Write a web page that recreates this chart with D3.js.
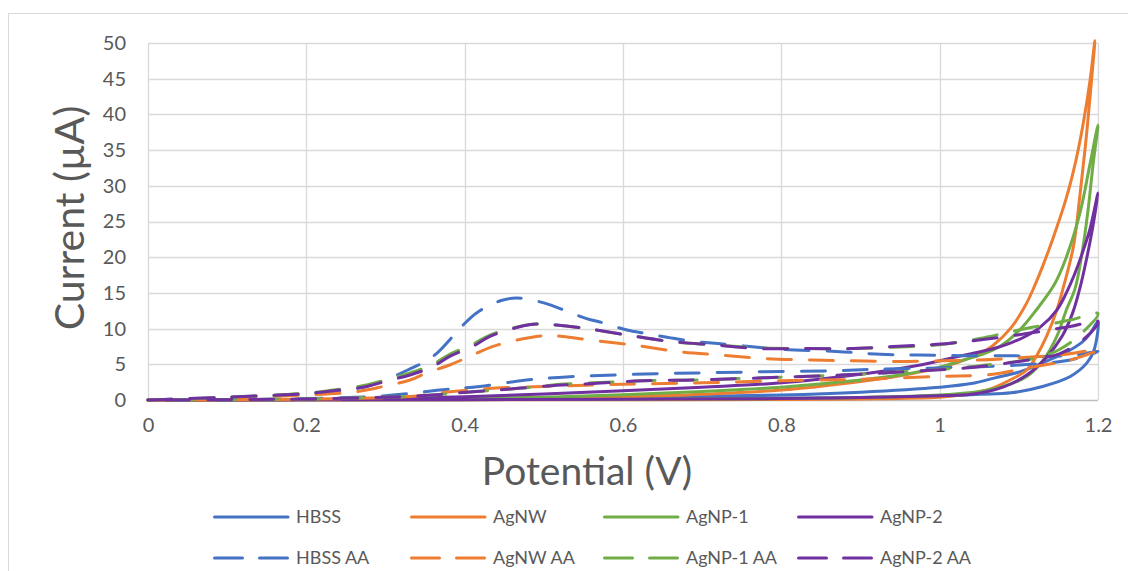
<!DOCTYPE html>
<html><head><meta charset="utf-8">
<script src="https://cdn.jsdelivr.net/npm/d3@7"></script>
<style>
html,body{margin:0;padding:0;background:#fff;}
svg{display:block;font-family:Lato,"Open Sans",sans-serif;}
</style></head>
<body><svg id="c" width="1128" height="571"></svg>
<script>
// ---- data (potential V, current µA), forward scan then reverse scan ----
const xTicks = [0, 0.2, 0.4, 0.6, 0.8, 1, 1.2];
const yTicks = [0, 5, 10, 15, 20, 25, 30, 35, 40, 45, 50];
const seriesNames = ["HBSS", "AgNW", "AgNP-1", "AgNP-2", "HBSS AA", "AgNW AA", "AgNP-1 AA", "AgNP-2 AA"];
const seriesColors = ["#4472C4", "#ED7D31", "#70AD47", "#7030A0", "#4472C4", "#ED7D31", "#70AD47", "#7030A0"];
const seriesDashed = [false, false, false, false, true, true, true, true];

const hbss = [[0,0],[0.2,0.03],[0.4,0.08],[0.6,0.15],[0.8,0.25],[0.9,0.35],[1.0,0.5],[1.05,0.8],[1.09,1.0],[1.13,1.9],[1.165,3.3],[1.186,5.2],[1.195,7.0],[1.2,11],
  [1.19,9.3],[1.18,8.1],[1.16,6.7],[1.14,5.7],[1.12,4.7],[1.1,3.9],[1.07,3.1],[1.04,2.3],[1.0,1.8],[0.9,1.1],[0.8,0.7],[0.6,0.35],[0.4,0.15],[0.2,0.05],[0,0]];
const agnw = [[0,0],[0.4,0.02],[0.6,0.04],[0.8,0.08],[0.9,0.15],[1.0,0.4],[1.026,0.7],[1.06,1.4],[1.089,2.8],[1.11,4.2],[1.122,6.1],[1.135,8.9],[1.148,12.6],[1.156,15.7],[1.169,21.5],[1.177,28.5],[1.184,35.5],[1.19,42.5],[1.196,50.3],
  [1.19,44.8],[1.181,38.5],[1.172,33.5],[1.16,28.3],[1.143,22.6],[1.126,17.6],[1.11,13.6],[1.09,10.1],[1.067,7.6],[1.047,6.3],[1.026,5.4],[1.0,4.5],[0.95,3.4],[0.9,2.6],[0.8,1.4],[0.7,0.8],[0.6,0.45],[0.5,0.25],[0.4,0.12],[0.2,0.03],[0,0]];
const agnp1 = [[0,0],[0.2,0.02],[0.4,0.05],[0.6,0.1],[0.8,0.2],[0.9,0.35],[1.0,0.7],[1.05,1.2],[1.08,1.9],[1.11,3.3],[1.131,5.6],[1.148,8.9],[1.16,12.6],[1.171,15.6],[1.179,20],[1.187,26.2],[1.194,33.2],[1.2,38.5],
  [1.19,33.1],[1.177,26.1],[1.16,20],[1.145,16.2],[1.122,12.6],[1.101,9.8],[1.076,7.5],[1.051,6.3],[1.03,5.6],[1.0,4.6],[0.95,3.5],[0.9,2.8],[0.8,1.8],[0.7,1.2],[0.6,0.75],[0.5,0.4],[0.4,0.2],[0.3,0.1],[0.2,0.04],[0,0]];
const agnp2 = [[0,0],[0.2,0.02],[0.4,0.05],[0.6,0.1],[0.8,0.2],[0.9,0.35],[1.0,0.6],[1.04,0.8],[1.08,1.8],[1.11,3.5],[1.135,6],[1.155,9],[1.168,12.2],[1.177,15.6],[1.186,20],[1.193,24],[1.2,29],
  [1.19,24],[1.18,20.5],[1.17,17.5],[1.16,15],[1.148,12.6],[1.127,10.2],[1.11,9.0],[1.09,8.0],[1.065,7.1],[1.04,6.5],[1.02,6.0],[0.97,4.8],[0.9,3.6],[0.8,2.4],[0.7,1.8],[0.6,1.3],[0.5,0.85],[0.4,0.45],[0.3,0.2],[0.2,0.08],[0,0]];
const hbssAA = [[0,0],[0.1,0.35],[0.2,0.9],[0.25,1.4],[0.276,1.9],[0.31,3.3],[0.328,4.2],[0.36,6.1],[0.398,10.5],[0.415,12.2],[0.445,13.9],[0.466,14.3],[0.5,13.6],[0.53,12.4],[0.554,11.4],[0.575,10.8],[0.605,9.8],[0.63,9.3],[0.66,8.7],[0.69,8.2],[0.72,7.9],[0.76,7.5],[0.8,7.1],[0.87,6.8],[0.925,6.4],[0.975,6.3],[1.03,6.2],[1.09,6.2],[1.135,6.1],[1.17,6.3],[1.2,6.8],
  [1.165,5.6],[1.1,4.9],[1.0,4.5],[0.92,4.3],[0.87,4.1],[0.8,4.0],[0.7,3.8],[0.647,3.7],[0.59,3.5],[0.524,3.2],[0.478,2.8],[0.419,1.9],[0.369,1.4],[0.3,0.6],[0.2,0.2],[0.1,0.05],[0,0]];
const agnwAA = [[0,0],[0.1,0.3],[0.2,0.7],[0.25,1.0],[0.276,1.4],[0.297,1.9],[0.331,2.8],[0.352,3.8],[0.381,4.9],[0.41,6.3],[0.436,7.5],[0.466,8.4],[0.499,9.0],[0.524,8.9],[0.558,8.4],[0.613,7.7],[0.668,6.8],[0.722,6.3],[0.781,5.8],[0.84,5.6],[0.891,5.5],[0.95,5.4],[1.004,5.5],[1.05,5.6],[1.1,5.9],[1.15,6.3],[1.2,7.0],
  [1.165,5.6],[1.11,4.5],[1.067,3.6],[1.0,3.3],[0.9,2.9],[0.8,2.7],[0.7,2.4],[0.6,2.2],[0.5,1.9],[0.445,1.7],[0.385,1.2],[0.331,0.5],[0.25,0.2],[0.15,0.05],[0,0]];
const agnp1AA = [[0,0],[0.1,0.4],[0.2,0.95],[0.234,1.4],[0.276,2.1],[0.306,3.0],[0.331,3.8],[0.36,5.0],[0.381,6.4],[0.41,7.8],[0.432,9.1],[0.461,10.1],[0.486,10.6],[0.516,10.5],[0.554,10.0],[0.605,9.1],[0.66,8.2],[0.718,7.7],[0.773,7.3],[0.832,7.2],[0.887,7.2],[0.941,7.4],[0.996,7.7],[1.05,8.6],[1.1,9.8],[1.165,11.2],[1.2,12.1],
  [1.177,9.1],[1.15,7.0],[1.122,5.9],[1.067,5.0],[1.026,4.5],[0.975,4.1],[0.916,3.7],[0.853,3.4],[0.8,3.2],[0.748,3.0],[0.689,2.8],[0.625,2.7],[0.562,2.4],[0.52,2.2],[0.495,1.9],[0.453,1.5],[0.415,1.2],[0.36,0.7],[0.318,0.46],[0.2,0.15],[0.1,0.05],[0,0]];
const agnp2AA = [[0,0],[0.1,0.4],[0.2,0.9],[0.234,1.3],[0.276,1.9],[0.306,2.8],[0.331,3.5],[0.36,4.7],[0.381,6.1],[0.41,7.5],[0.432,8.9],[0.461,10.0],[0.486,10.6],[0.516,10.5],[0.554,10.0],[0.605,9.1],[0.66,8.2],[0.718,7.7],[0.773,7.2],[0.832,7.2],[0.887,7.2],[0.941,7.5],[0.996,7.8],[1.05,8.4],[1.11,9.3],[1.165,10.3],[1.2,11.0],
  [1.186,8.9],[1.152,6.5],[1.122,5.8],[1.067,4.9],[1.026,4.4],[0.975,4.1],[0.916,3.7],[0.853,3.4],[0.8,3.2],[0.748,3.0],[0.689,2.8],[0.625,2.7],[0.562,2.3],[0.524,2.1],[0.495,1.9],[0.453,1.5],[0.415,1.2],[0.36,0.7],[0.318,0.46],[0.2,0.15],[0.1,0.05],[0,0]];
const seriesData = [hbss, agnw, agnp1, agnp2, hbssAA, agnwAA, agnp1AA, agnp2AA];

// ---- drawing ----
(function () {
const svg = d3.select("#c");
const pLeft = 148, pRight = 1098, pTop = 43, pBottom = 400;
const x = d3.scaleLinear().domain([0, 1.2]).range([pLeft, pRight]);
const y = d3.scaleLinear().domain([0, 50]).range([pBottom, pTop]);
const textColor = "#595959";
const gridColor = "#d9d9d9";

// chart area border (cropped)
svg.append("rect").attr("x", 8.5).attr("y", 13.5).attr("width", 1200).attr("height", 700)
  .attr("fill", "none").attr("stroke", gridColor).attr("stroke-width", 1);

// gridlines
const grid = svg.append("g");
grid.selectAll("line.h").data(yTicks.filter(d => d > 0)).join("line")
  .attr("x1", pLeft).attr("x2", pRight)
  .attr("y1", d => Math.round(y(d)) + 0.5).attr("y2", d => Math.round(y(d)) + 0.5)
  .attr("stroke", gridColor).attr("stroke-width", 1.3);
grid.selectAll("line.v").data(xTicks).join("line")
  .attr("y1", pTop).attr("y2", pBottom)
  .attr("x1", d => Math.round(x(d)) + 0.5).attr("x2", d => Math.round(x(d)) + 0.5)
  .attr("stroke", gridColor).attr("stroke-width", 1.3);
svg.append("line").attr("x1", pLeft).attr("x2", pRight).attr("y1", pBottom + 0.5).attr("y2", pBottom + 0.5)
  .attr("stroke", "#bfbfbf").attr("stroke-width", 1.3);

// axes (labels via d3 axes)
const yAxis = svg.append("g").attr("transform", `translate(${pLeft},0)`)
  .call(d3.axisLeft(y).tickValues(yTicks).tickSize(0).tickPadding(22).tickFormat(d3.format("d")));
yAxis.select(".domain").remove();
yAxis.selectAll("text").attr("fill", textColor).attr("font-size", 20).attr("font-family", "Lato, sans-serif");

const xAxis = svg.append("g").attr("transform", `translate(0,${pBottom})`)
  .call(d3.axisBottom(x).tickValues(xTicks).tickSize(0).tickPadding(18).tickFormat(d => String(d)));
xAxis.select(".domain").remove();
xAxis.selectAll("text").attr("fill", textColor).attr("font-size", 20).attr("font-family", "Lato, sans-serif");

// axis titles
svg.append("text").attr("x", 587).attr("y", 485).attr("text-anchor", "middle")
  .attr("fill", textColor).attr("font-size", 39).text("Potential (V)");
svg.append("text").attr("transform", `translate(84,218) rotate(-90)`)
  .attr("text-anchor", "middle").attr("fill", textColor).attr("font-size", 41).text("Current (µA)");

// series
const line = d3.line().x(d => x(d[0])).y(d => y(d[1])).curve(d3.curveCatmullRom.alpha(0.5));
svg.append("g").selectAll("path").data(seriesData).join("path")
  .attr("d", d => line(d))
  .attr("fill", "none")
  .attr("stroke", (d, i) => seriesColors[i])
  .attr("stroke-width", 3)
  .attr("stroke-linecap", "round")
  .attr("stroke-linejoin", "round")
  .attr("stroke-dasharray", (d, i) => seriesDashed[i] ? "24,18" : null);

// legend
const legX = [213, 410, 603, 797];
const legY = [517, 558];
const leg = svg.append("g").selectAll("g").data(seriesNames).join("g")
  .attr("transform", (d, i) => `translate(${legX[i % 4]},${legY[Math.floor(i / 4)]})`);
leg.append("line").attr("x1", 1.5).attr("x2", 75).attr("y1", 0).attr("y2", 0)
  .attr("stroke", (d, i) => seriesColors[i]).attr("stroke-width", 3).attr("stroke-linecap", "round")
  .attr("stroke-dasharray", (d, i) => seriesDashed[i] ? "28,17" : null);
leg.append("text").attr("x", 83).attr("y", 0).attr("dy", "0.35em")
  .attr("fill", textColor).attr("font-size", 18).text(d => d);
})();
</script></body></html>
